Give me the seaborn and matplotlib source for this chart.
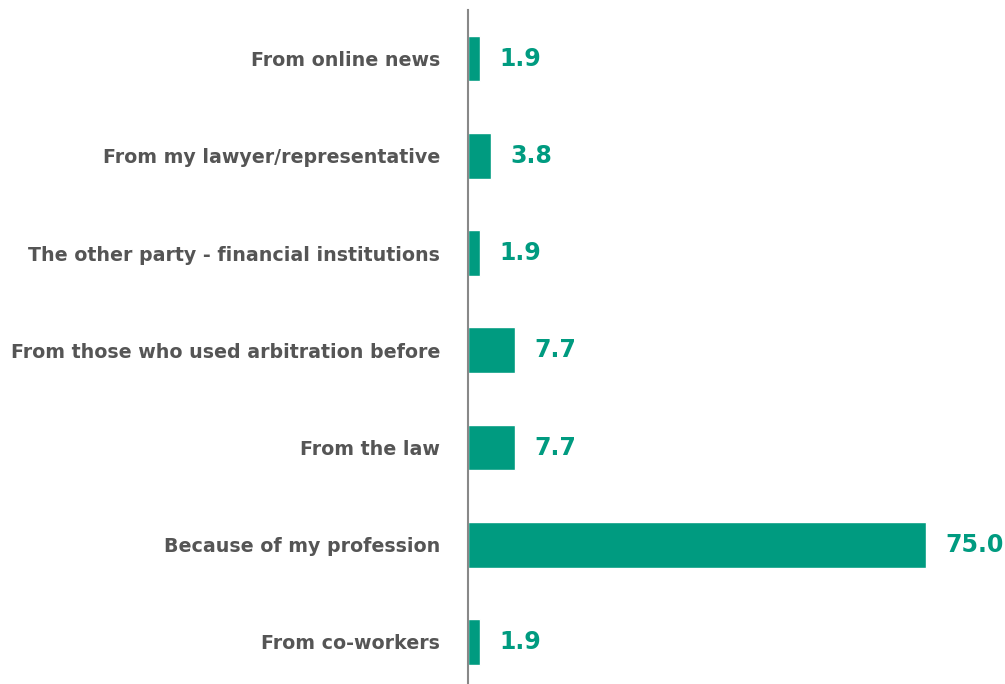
import matplotlib
matplotlib.use("Agg")
import matplotlib.pyplot as plt
import seaborn as sns
import pandas as pd

categories = [
    "From online news",
    "From my lawyer/representative",
    "The other party - financial institutions",
    "From those who used arbitration before",
    "From the law",
    "Because of my profession",
    "From co-workers",
]
values = [1.9, 3.8, 1.9, 7.7, 7.7, 75.0, 1.9]

bar_color = "#009B80"
text_color = "#555555"

sns.set_theme(style="white")
plt.rcParams["font.family"] = ["DejaVu Sans"]

df = pd.DataFrame({"source": categories, "share": values})

fig = plt.figure(figsize=(10.05, 6.84), dpi=100)
ax = fig.add_axes([0.4657, -0.0096, 0.5343, 0.995])

sns.barplot(data=df, y="source", x="share", orient="h", color=bar_color,
            width=0.47, saturation=1, ax=ax)

ax.set_xlim(0, 88)
ax.set_ylim(6.5, -0.5)
ax.set_xlabel("")
ax.set_ylabel("")
ax.set_xticks([])

for side in ["top", "right", "bottom"]:
    ax.spines[side].set_visible(False)
ax.spines["left"].set_color("#888888")
ax.spines["left"].set_linewidth(1.5)

ax.tick_params(axis="y", length=0, pad=20)
for lbl in ax.get_yticklabels():
    lbl.set_fontsize(13.7)
    lbl.set_fontweight("bold")
    lbl.set_color(text_color)

for i, v in enumerate(values):
    ax.annotate(f"{v:.1f}", xy=(v, i), xytext=(14, 0), textcoords="offset points",
                ha="left", va="center", fontsize=17, fontweight="bold",
                color=bar_color)

fig.savefig("out.png", dpi=100)
